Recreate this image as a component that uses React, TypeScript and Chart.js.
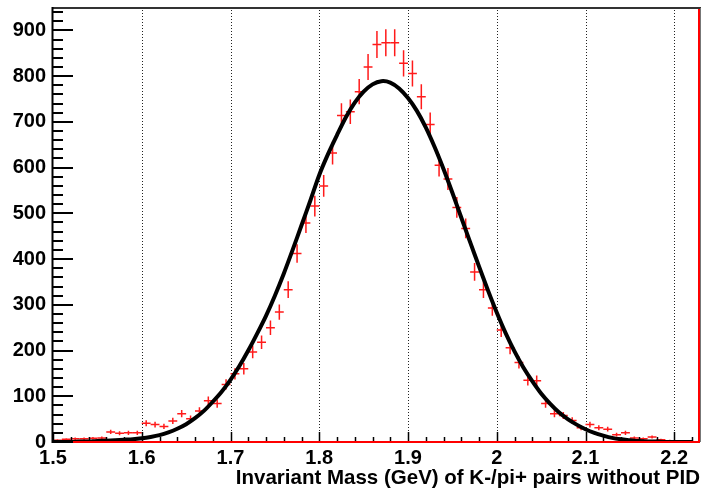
import React, { useEffect, useRef } from 'react';
import { Chart, registerables } from 'chart.js';

Chart.register(...registerables);

// ---- data ----
const binCenters = [
  1.505, 1.515, 1.525, 1.535, 1.545, 1.555, 1.565, 1.575, 1.585, 1.595,
  1.605, 1.615, 1.625, 1.635, 1.645, 1.655, 1.665, 1.675, 1.685, 1.695,
  1.705, 1.715, 1.725, 1.735, 1.745, 1.755, 1.765, 1.775, 1.785, 1.795,
  1.805, 1.815, 1.825, 1.835, 1.845, 1.855, 1.865, 1.875, 1.885, 1.895,
  1.905, 1.915, 1.925, 1.935, 1.945, 1.955, 1.965, 1.975, 1.985, 1.995,
  2.005, 2.015, 2.025, 2.035, 2.045, 2.055, 2.065, 2.075, 2.085, 2.095,
  2.105, 2.115, 2.125, 2.135, 2.145, 2.155, 2.165, 2.175, 2.185, 2.195,
  2.205, 2.215, 2.225,
];
const counts = [
  4, 6, 7, 7, 8, 9, 22, 19, 20, 20,
  41, 38, 34, 46, 62, 51, 68, 90, 84, 126,
  149, 160, 197, 218, 250, 284, 333, 412, 479, 516,
  560, 632, 714, 722, 766, 820, 869, 873, 873, 828,
  806, 755, 694, 605, 575, 513, 467, 372, 333, 293,
  245, 206, 174, 135, 134, 84, 62, 58, 47, 31,
  38, 31, 28, 16, 20, 9, 7, 11, 5, 3,
  2, 1, 0,
];
const fitX = [
  1.50, 1.51, 1.52, 1.53, 1.54, 1.55, 1.56, 1.57, 1.58, 1.59,
  1.60, 1.61, 1.62, 1.63, 1.64, 1.65, 1.66, 1.67, 1.68, 1.69,
  1.70, 1.71, 1.72, 1.73, 1.74, 1.75, 1.76, 1.77, 1.78, 1.79,
  1.80, 1.81, 1.82, 1.83, 1.84, 1.85, 1.86, 1.87, 1.88, 1.89,
  1.90, 1.91, 1.92, 1.93, 1.94, 1.95, 1.96, 1.97, 1.98, 1.99,
  2.00, 2.01, 2.02, 2.03, 2.04, 2.05, 2.06, 2.07, 2.08, 2.09,
  2.10, 2.11, 2.12, 2.13, 2.14, 2.15, 2.16, 2.17, 2.18, 2.19,
  2.20, 2.21, 2.22,
];
const fitY = [
  0, 0, 0, 1, 1, 2, 3, 4, 5, 6,
  8, 11, 15, 21, 29, 39, 52, 68, 88, 110,
  136, 166, 200, 237, 276, 320, 368, 420, 474, 528,
  584, 630, 671, 710, 742, 766, 782, 789, 786, 773,
  752, 724, 688, 645, 597, 545, 491, 437, 384, 332,
  283, 238, 198, 163, 133, 106, 84, 65, 50, 38,
  28, 20, 14, 9, 6, 4, 2, 1, 1, 0,
  0, 0, 0,
];
const xTickValues = [1.5, 1.6, 1.7, 1.8, 1.9, 2.0, 2.1, 2.2];
const xTickLabels = ['1.5', '1.6', '1.7', '1.8', '1.9', '2', '2.1', '2.2'];
const yTickValues = [0, 100, 200, 300, 400, 500, 600, 700, 800, 900];
const yTickLabels = ['0', '100', '200', '300', '400', '500', '600', '700', '800', '900'];
const xTitle = 'Invariant Mass (GeV) of K-/pi+ pairs without PID';

const X_MIN = 1.5;
const X_MAX = 2.229;
const Y_MIN = 0;
const Y_MAX = 949;
const BIN_WIDTH = 0.01;
const X_MINOR_STEP = 0.02;
const Y_MINOR_STEP = 20;

const FONT_FAMILY = '"Liberation Sans", Arial, Helvetica, sans-serif';

const rootStyle = {
  id: 'rootStyle',
  beforeDatasetsDraw(chart: any) {
    const ctx = chart.ctx;
    const a = chart.chartArea;
    const x = chart.scales.x;
    const y = chart.scales.y;
    ctx.save();
    // dotted vertical grid
    ctx.strokeStyle = '#222';
    ctx.lineWidth = 1;
    ctx.setLineDash([1, 2]);
    xTickValues.forEach((v) => {
      if (v <= X_MIN) return;
      const px = Math.round(x.getPixelForValue(v)) + 0.5;
      ctx.beginPath();
      ctx.moveTo(px, a.top + 2);
      ctx.lineTo(px, a.bottom);
      ctx.stroke();
    });
    ctx.setLineDash([]);
    // histogram crosses with error bars
    ctx.strokeStyle = '#ff1a1a';
    ctx.lineWidth = 1.5;
    counts.forEach((c, i) => {
      if (c <= 0) return;
      const cx = binCenters[i];
      const xl = x.getPixelForValue(cx - BIN_WIDTH / 2);
      const xr = x.getPixelForValue(cx + BIN_WIDTH / 2);
      const xc = x.getPixelForValue(cx);
      const yc = y.getPixelForValue(c);
      const e = Math.sqrt(c);
      const yt = y.getPixelForValue(c + e);
      const yb = y.getPixelForValue(Math.max(0, c - e));
      ctx.beginPath();
      ctx.moveTo(xl, yc);
      ctx.lineTo(xr, yc);
      ctx.moveTo(xc, yt);
      ctx.lineTo(xc, yb);
      ctx.stroke();
    });
    ctx.restore();
  },
  afterDraw(chart: any) {
    const ctx = chart.ctx;
    const a = chart.chartArea;
    const x = chart.scales.x;
    const y = chart.scales.y;
    ctx.save();
    ctx.setLineDash([]);
    // top frame
    ctx.strokeStyle = '#333333';
    ctx.lineWidth = 2;
    ctx.beginPath();
    ctx.moveTo(a.left - 1, a.top);
    ctx.lineTo(a.right + 1, a.top);
    ctx.stroke();
    // right frame thin gray
    ctx.lineWidth = 1;
    ctx.strokeStyle = '#777777';
    ctx.beginPath();
    ctx.moveTo(a.right + 0.5, a.top);
    ctx.lineTo(a.right + 0.5, a.bottom);
    ctx.stroke();
    // red histogram outline: baseline and right edge
    ctx.strokeStyle = '#ff0000';
    ctx.lineWidth = 2;
    const y0 = y.getPixelForValue(0);
    const xr = x.getPixelForValue(X_MAX) - 1;
    ctx.beginPath();
    ctx.moveTo(a.left, y0);
    ctx.lineTo(xr, y0);
    ctx.lineTo(xr, a.top + 1);
    ctx.stroke();
    // left axis
    ctx.strokeStyle = '#000000';
    ctx.lineWidth = 2;
    ctx.beginPath();
    ctx.moveTo(a.left - 0.5, a.top - 1);
    ctx.lineTo(a.left - 0.5, a.bottom + 1);
    ctx.stroke();
    // y ticks (inside)
    ctx.lineWidth = 2;
    let k = 0;
    for (let v = Y_MIN; v <= Y_MAX; v += Y_MINOR_STEP) {
      const major = k % 5 === 0;
      const py = Math.round(y.getPixelForValue(v));
      ctx.beginPath();
      ctx.moveTo(a.left, py);
      ctx.lineTo(a.left + (major ? 20 : 10), py);
      ctx.stroke();
      k++;
    }
    // x ticks (inside)
    ctx.lineWidth = 1.5;
    const nSteps = Math.floor((X_MAX - X_MIN) / X_MINOR_STEP + 1e-6);
    for (let j = 0; j <= nSteps; j++) {
      const v = X_MIN + j * X_MINOR_STEP;
      const major = j % 5 === 0;
      const px = Math.round(x.getPixelForValue(v)) + 0.5;
      ctx.beginPath();
      ctx.moveTo(px, a.bottom - 1);
      ctx.lineTo(px, a.bottom - (major ? 10 : 5));
      ctx.stroke();
    }
    ctx.restore();
  },
};

export default function App() {
  const canvasRef = useRef<HTMLCanvasElement | null>(null);

  useEffect(() => {
    const canvas = canvasRef.current;
    if (!canvas) return;
    const chart = new Chart(canvas, {
      type: 'scatter',
      data: {
        datasets: [
          {
            label: 'data',
            data: binCenters.map((v, i) => ({ x: v, y: counts[i] })),
            pointRadius: 0,
            showLine: false,
            order: 2,
          },
          {
            label: 'fit',
            data: fitX.map((v, i) => ({ x: v, y: fitY[i] })),
            showLine: true,
            borderColor: '#000',
            borderWidth: 4,
            pointRadius: 0,
            tension: 0.3,
            fill: false,
            order: 1,
          },
        ],
      },
      options: {
        animation: false,
        responsive: false,
        devicePixelRatio: 1,
        layout: { padding: { top: 8, right: 2, left: 0, bottom: 0 } },
        plugins: { legend: { display: false }, tooltip: { enabled: false } },
        scales: {
          x: {
            type: 'linear',
            min: X_MIN,
            max: X_MAX,
            grid: { display: false, drawTicks: false },
            border: { display: false },
            afterBuildTicks: (scale: any) => {
              scale.ticks = xTickValues.map((v) => ({ value: v }));
            },
            afterFit: (scale: any) => {
              scale.height = 50;
              scale.paddingLeft = 0;
              scale.paddingRight = 0;
            },
            ticks: {
              autoSkip: false,
              maxRotation: 0,
              padding: 4,
              color: '#000',
              font: { family: FONT_FAMILY, size: 20, weight: 'bold' },
              callback: (v: any) => {
                const i = xTickValues.findIndex((t) => Math.abs(t - Number(v)) < 1e-6);
                return i >= 0 ? xTickLabels[i] : '';
              },
            },
            title: {
              display: true,
              text: xTitle,
              align: 'end',
              color: '#000',
              font: { family: FONT_FAMILY, size: 20.5, weight: 'bold' },
              padding: { top: 0, bottom: 1 },
            },
          },
          y: {
            type: 'linear',
            min: Y_MIN,
            max: Y_MAX,
            grid: { display: false, drawTicks: false },
            border: { display: false },
            afterBuildTicks: (scale: any) => {
              scale.ticks = yTickValues.map((v) => ({ value: v }));
            },
            afterFit: (scale: any) => {
              scale.width = 53;
              scale.paddingTop = 0;
              scale.paddingBottom = 0;
            },
            ticks: {
              autoSkip: false,
              padding: 7,
              color: '#000',
              font: { family: FONT_FAMILY, size: 20, weight: 'bold' },
              callback: (v: any) => {
                const i = yTickValues.findIndex((t) => Math.abs(t - Number(v)) < 1e-6);
                return i >= 0 ? yTickLabels[i] : '';
              },
            },
          },
        },
      },
      plugins: [rootStyle],
    });
    return () => chart.destroy();
  }, []);

  return (
    <div style={{ position: 'absolute', left: 0, top: 0, width: 702, height: 492, background: '#fff' }}>
      <canvas ref={canvasRef} width={702} height={492} style={{ display: 'block' }} />
    </div>
  );
}
